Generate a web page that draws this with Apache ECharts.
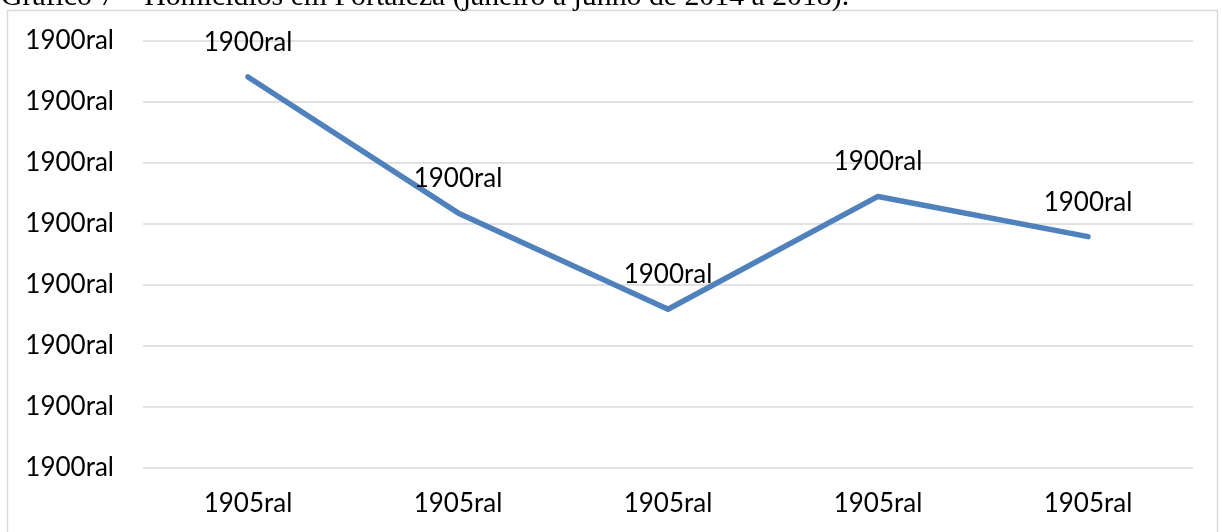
<!DOCTYPE html>
<html>
<head>
<meta charset="utf-8">
<script src="https://cdn.jsdelivr.net/npm/echarts@6/dist/echarts.min.js"></script>
<style>
html,body{margin:0;padding:0;background:#fff;}
#chart{width:1222px;height:532px;}
</style>
</head>
<body>
<div id="chart"></div>
<script>
// Data
var titleText = 'Gráfico 7 – Homicídios em Fortaleza (janeiro a junho de 2014 a 2018).';
var categories = ['1905ral', '1905ral', '1905ral', '1905ral', '1905ral'];
var values = [6.41, 4.18, 2.60, 4.45, 3.79];
var dataLabels = ['1900ral', '1900ral', '1900ral', '1900ral', '1900ral'];
var yTickLabels = ['1900ral', '1900ral', '1900ral', '1900ral', '1900ral', '1900ral', '1900ral', '1900ral'];

var chart = echarts.init(document.getElementById('chart'), null, {renderer: 'canvas'});
var labelFont = 'Lato';
var option = {
  animation: false,
  backgroundColor: '#ffffff',
  grid: {left: 143, right: 29, top: 41, bottom: 64.3, containLabel: false},
  graphic: [
    {
      type: 'rect',
      shape: {x: 7.5, y: 10.5, width: 1210, height: 560},
      style: {fill: 'none', stroke: '#d9d9d9', lineWidth: 1.5},
      z: 0
    },
    {
      type: 'text',
      x: 1, y: -3,
      style: {
        text: titleText,
        font: '29.8px "Liberation Serif"',
        fill: '#000000',
        verticalAlign: 'middle',
        align: 'left'
      },
      z: 10
    }
  ],
  xAxis: {
    type: 'category',
    data: categories,
    boundaryGap: true,
    axisLine: {show: false},
    axisTick: {show: false},
    axisLabel: {
      color: '#000000',
      fontFamily: labelFont,
      fontSize: 26,
      margin: 23
    },
    splitLine: {show: false}
  },
  yAxis: {
    type: 'value',
    min: 0,
    max: 7,
    interval: 1,
    axisLine: {show: false},
    axisTick: {show: false},
    axisLabel: {
      color: '#000000',
      fontFamily: labelFont,
      fontSize: 26,
      margin: 29,
      formatter: function (v) { return yTickLabels[Math.round(v)]; }
    },
    splitLine: {lineStyle: {color: '#d9d9d9', width: 1.5}}
  },
  series: [{
    type: 'line',
    data: values,
    symbol: 'circle',
    symbolSize: 1,
    showSymbol: true,
    itemStyle: {color: 'rgba(79,129,189,0)', borderWidth: 0},
    lineStyle: {color: '#4f81bd', width: 5.5, cap: 'round', join: 'round'},
    label: {
      show: true,
      position: 'top',
      distance: 21,
      color: '#000000',
      opacity: 1,
      fontFamily: labelFont,
      fontSize: 26,
      formatter: function (p) { return dataLabels[p.dataIndex]; }
    },
    z: 5
  }]
};
chart.setOption(option);
</script>
</body>
</html>
